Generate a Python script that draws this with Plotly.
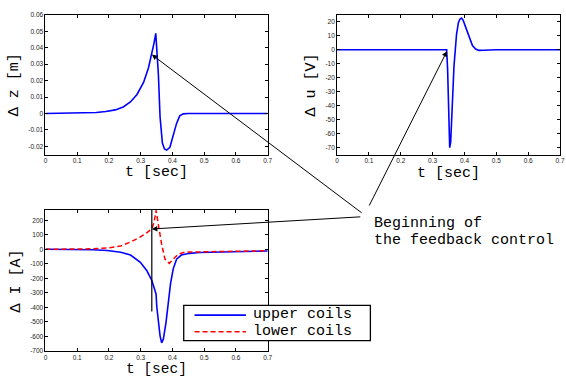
import plotly.graph_objects as go

W, H = 566, 379

# ---------------- data ----------------
t_z = [0, 0.05, 0.1, 0.13, 0.16, 0.19, 0.22, 0.245, 0.2676, 0.2884, 0.309, 0.3246,
       0.335, 0.342, 0.3475, 0.351, 0.3557, 0.361, 0.3683, 0.375, 0.382, 0.392,
       0.402, 0.413, 0.423, 0.434, 0.45, 0.5, 0.6, 0.7]
dz = [0, 0.0001, 0.0002, 0.0003, 0.0006, 0.0012, 0.0022, 0.0040, 0.0070, 0.0116,
      0.0189, 0.0278, 0.0358, 0.0428, 0.0487, 0.0395, 0.0239, -0.002, -0.0179,
      -0.0215, -0.0222, -0.0205, -0.013, -0.006, -0.0014, -0.0002, 0, 0, 0, 0]

t_u = [0, 0.1, 0.2, 0.3, 0.344, 0.347, 0.3495, 0.3515, 0.3536, 0.3567, 0.36, 0.363,
       0.367, 0.370, 0.375, 0.381, 0.386, 0.391, 0.396, 0.404, 0.414, 0.425, 0.435,
       0.445, 0.46, 0.5, 0.6, 0.7]
du = [0, 0, 0, 0, 0, -14, -45, -66, -70, -66, -52, -33, -12, 0, 11, 19.5, 22, 22.6,
      21, 16, 9, 3, 0.5, -0.4, -0.3, 0, 0, 0]

t_up = [0, 0.1, 0.15, 0.195, 0.237, 0.268, 0.299, 0.32, 0.335, 0.345, 0.3485, 0.3506,
        0.356, 0.361, 0.366, 0.3713, 0.3796, 0.387, 0.394, 0.4025, 0.413, 0.428,
        0.454, 0.485, 0.55, 0.6, 0.65, 0.7]
i_upper = [0, -1, -3, -8, -20, -40, -90, -150, -215, -285, -310, -395, -507, -597,
           -645, -620, -507, -372, -237, -135, -68, -40, -28, -22, -18, -16, -14, -12]

t_lo = [0, 0.1, 0.15, 0.195, 0.237, 0.268, 0.299, 0.32, 0.335, 0.342, 0.3485, 0.3557,
        0.366, 0.3765, 0.390, 0.4025, 0.418, 0.4387, 0.485, 0.55, 0.6, 0.65, 0.7]
i_lower = [0, 1, 3, 9, 23, 50, 85, 115, 140, 185, 268, 169, 34, -68, -97, -68, -34,
           -20, -18, -16, -14, -12, -10]

x_ticks = [0, 0.1, 0.2, 0.3, 0.4, 0.5, 0.6, 0.7]
x_labels = ["0", "0.1", "0.2", "0.3", "0.4", "0.5", "0.6", "0.7"]
z_ticks = [-0.02, -0.01, 0, 0.01, 0.02, 0.03, 0.04, 0.05, 0.06]
z_labels = ["-0.02", "-0.01", "0", "0.01", "0.02", "0.03", "0.04", "0.05", "0.06"]
u_ticks = [-70, -60, -50, -40, -30, -20, -10, 0, 10, 20]
u_labels = ["-70", "-60", "-50", "-40", "-30", "-20", "-10", "0", "10", "20"]
i_ticks = [-700, -600, -500, -400, -300, -200, -100, 0, 100, 200]
i_labels = ["-700", "-600", "-500", "-400", "-300", "-200", "-100", "0", "100", "200"]

legend_names = ["upper coils", "lower coils"]
note_lines = ["Beginning of", "the feedback control"]
t_start = 0.335

# ---------------- helpers ----------------
def px(x):
    return x / W

def py(y):
    return 1 - y / H

MONO = "Liberation Mono, Courier New, monospace"
SANS = "Liberation Sans, Arial, sans-serif"

fig = go.Figure()
fig.add_trace(go.Scatter(x=t_z, y=dz, mode="lines", line=dict(color="#0000ff", width=1.6),
                         xaxis="x", yaxis="y", showlegend=False))
fig.add_trace(go.Scatter(x=t_u, y=du, mode="lines", line=dict(color="#0000ff", width=1.6),
                         xaxis="x2", yaxis="y2", showlegend=False))
fig.add_trace(go.Scatter(x=t_up, y=i_upper, mode="lines", name=legend_names[0],
                         line=dict(color="#0000ff", width=1.6),
                         xaxis="x3", yaxis="y3", showlegend=False))
fig.add_trace(go.Scatter(x=t_lo, y=i_lower, mode="lines", name=legend_names[1],
                         line=dict(color="#ff0000", width=1.5, dash="5px,3px"),
                         xaxis="x3", yaxis="y3", showlegend=False))

ax_common = dict(showline=True, linecolor="black", linewidth=1, mirror="allticks",
                 ticks="inside", ticklen=3, tickcolor="black", tickwidth=1,
                 showgrid=False, zeroline=False,
                 tickfont=dict(family=SANS, size=6.5, color="#222"))

xd1 = [px(44), px(269)]
xd2 = [px(339.3), px(565)]
yd_top = [py(153.5), py(11)]
yd_bot = [py(353.3), py(210)]

fig.update_layout(
    width=W, height=H, margin=dict(l=0, r=0, t=0, b=0),
    paper_bgcolor="white", plot_bgcolor="white",
    xaxis=dict(domain=xd1, anchor="y", range=[0, 0.7], tickvals=x_ticks, ticktext=x_labels, **ax_common),
    yaxis=dict(domain=yd_top, anchor="x", range=[-0.025, 0.06], tickvals=z_ticks, ticktext=z_labels, **ax_common),
    xaxis2=dict(domain=xd2, anchor="y2", range=[0, 0.7], tickvals=x_ticks, ticktext=x_labels,
                ticklabeloverflow="allow", **ax_common),
    yaxis2=dict(domain=yd_top, anchor="x2", range=[-75, 25], tickvals=u_ticks, ticktext=u_labels, **ax_common),
    xaxis3=dict(domain=xd1, anchor="y3", range=[0, 0.7], tickvals=x_ticks, ticktext=x_labels, **ax_common),
    yaxis3=dict(domain=yd_bot, anchor="x3", range=[-700, 270], tickvals=i_ticks, ticktext=i_labels, **ax_common),
)

ann = []
# axis titles
for (x, y, txt, rot, fs) in [
    (156.5, 172, "t [sec]", 0, 15), (452, 173, "t [sec]", 0, 15), (156, 371.5, "t [sec]", 0, 14.5),
    (13, 82, "Δ z [m]", -90, 15), (313, 83, "Δ u [V]", -90, 15), (15, 282, "Δ I [A]", -90, 15)]:
    ann.append(dict(xref="paper", yref="paper", x=px(x), y=py(y), text=txt, showarrow=False,
                    xanchor="center", yanchor="middle", textangle=rot,
                    font=dict(family=MONO, size=fs, color="black")))

# note text
for line, yy in zip(note_lines, [223.5, 241]):
    ann.append(dict(xref="paper", yref="paper", x=px(375), y=py(yy), text=line,
                    showarrow=False, xanchor="left", yanchor="middle",
                    font=dict(family=MONO, size=15, color="black")))

# arrows
arrow_style = dict(showarrow=True, arrowhead=2, arrowsize=1.1, arrowwidth=1, arrowcolor="black", text="")
ann.append(dict(xref="x", yref="y", x=t_start, y=0.0358, ax=363 - 151.7, ay=207 - 47.7, **arrow_style))
ann.append(dict(xref="x2", yref="y2", x=0.345, y=-1, ax=372 - 450.5, ay=204 - 48.1, **arrow_style))
ann.append(dict(xref="x3", yref="y3", x=t_start, y=140, ax=362 - 152, ay=217 - 229.2, **arrow_style))

# legend text
for name, yy in zip(legend_names, [316.5, 334]):
    ann.append(dict(xref="paper", yref="paper", x=px(252), y=py(yy), text=name, showarrow=False,
                    xanchor="left", yanchor="middle", font=dict(family=MONO, size=15, color="black")))

shapes = [
    # vertical line at start of control
    dict(type="line", xref="x3", yref="y3", x0=t_start, x1=t_start, y0=-430, y1=270,
         line=dict(color="black", width=1.2)),
    # legend box
    dict(type="rect", xref="paper", yref="paper", x0=px(184), x1=px(373), y0=py(343), y1=py(307),
         line=dict(color="black", width=1.3), fillcolor="white", layer="above"),
    dict(type="line", xref="paper", yref="paper", x0=px(195), x1=px(247), y0=py(317), y1=py(317),
         line=dict(color="#0000ff", width=1.6), layer="above"),
    dict(type="line", xref="paper", yref="paper", x0=px(195), x1=px(247), y0=py(334), y1=py(334),
         line=dict(color="#ff0000", width=1.5, dash="5px,3px"), layer="above"),
]

fig.update_layout(annotations=ann, shapes=shapes)
fig.write_html("out.html")
